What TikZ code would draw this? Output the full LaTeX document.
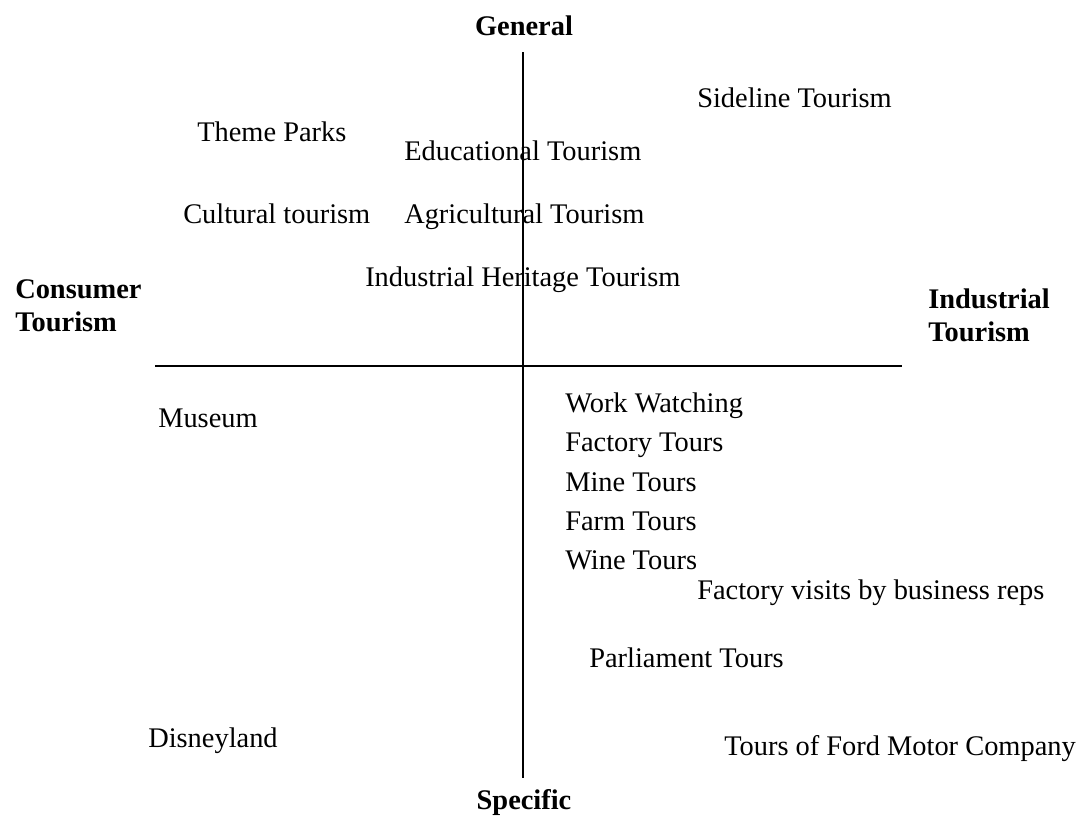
\documentclass[tikz,border=0pt]{standalone}
\usepackage{fontspec}
\setmainfont{Liberation Serif}
\usepackage{tikz}
\usetikzlibrary{positioning}

\begin{document}
\begin{tikzpicture}[
    x=0.025cm, y=-0.025cm,
    every node/.style={font=\fontsize{20.2}{26}\selectfont, inner sep=0pt},
    axis/.style={line width=2pt, black},
    pole/.style={font=\fontsize{20.2}{23.4}\selectfont\bfseries, align=left},
    item/.style={anchor=base west}
]

\useasboundingbox (0,0) rectangle (1080,816);

% axes
\coordinate (top) at (523,52);
\coordinate (bottom) at (523,778);
\coordinate (left) at (155,366);
\coordinate (right) at (902,366);
\draw[axis] (top) -- (bottom);
\draw[axis] (left) -- (right);

% axis ends
\node[pole, anchor=base] (general) at (524,35) {General};
\node[pole, anchor=base] (specific) at (524,809) {Specific};
\node[pole, anchor=west] (consumer) at (15,305.5) {Consumer\\Tourism};
\node[pole, anchor=west] (industrial) at (928,315) {Industrial\\Tourism};

% upper half (baselines)
\node[item] (sideline) at (697,107) {Sideline Tourism};
\node[item] (theme) at (197,141) {Theme Parks};
\node[item] (educational) at (404,160) {Educational Tourism};
\node[item] (cultural) at (183,223) {Cultural tourism};
\node[item] (agricultural) at (404,223) {Agricultural Tourism};
\node[item] (heritage) at (365,286) {Industrial Heritage Tourism};

% lower half (baselines)
\node[item] (museum) at (158,427) {Museum};
\node[item] (workwatch) at (565,412) {Work Watching};
\node[item] (factory) at (565,451) {Factory Tours};
\node[item] (mine) at (565,491) {Mine Tours};
\node[item] (farm) at (565,530) {Farm Tours};
\node[item] (wine) at (565,569) {Wine Tours};
\node[item] (visits) at (697,599) {Factory visits by business reps};
\node[item] (parliament) at (589,667) {Parliament Tours};
\node[item] (disney) at (148,747) {Disneyland};
\node[item] (ford) at (724,755) {Tours of Ford Motor Company};

\end{tikzpicture}
\end{document}
